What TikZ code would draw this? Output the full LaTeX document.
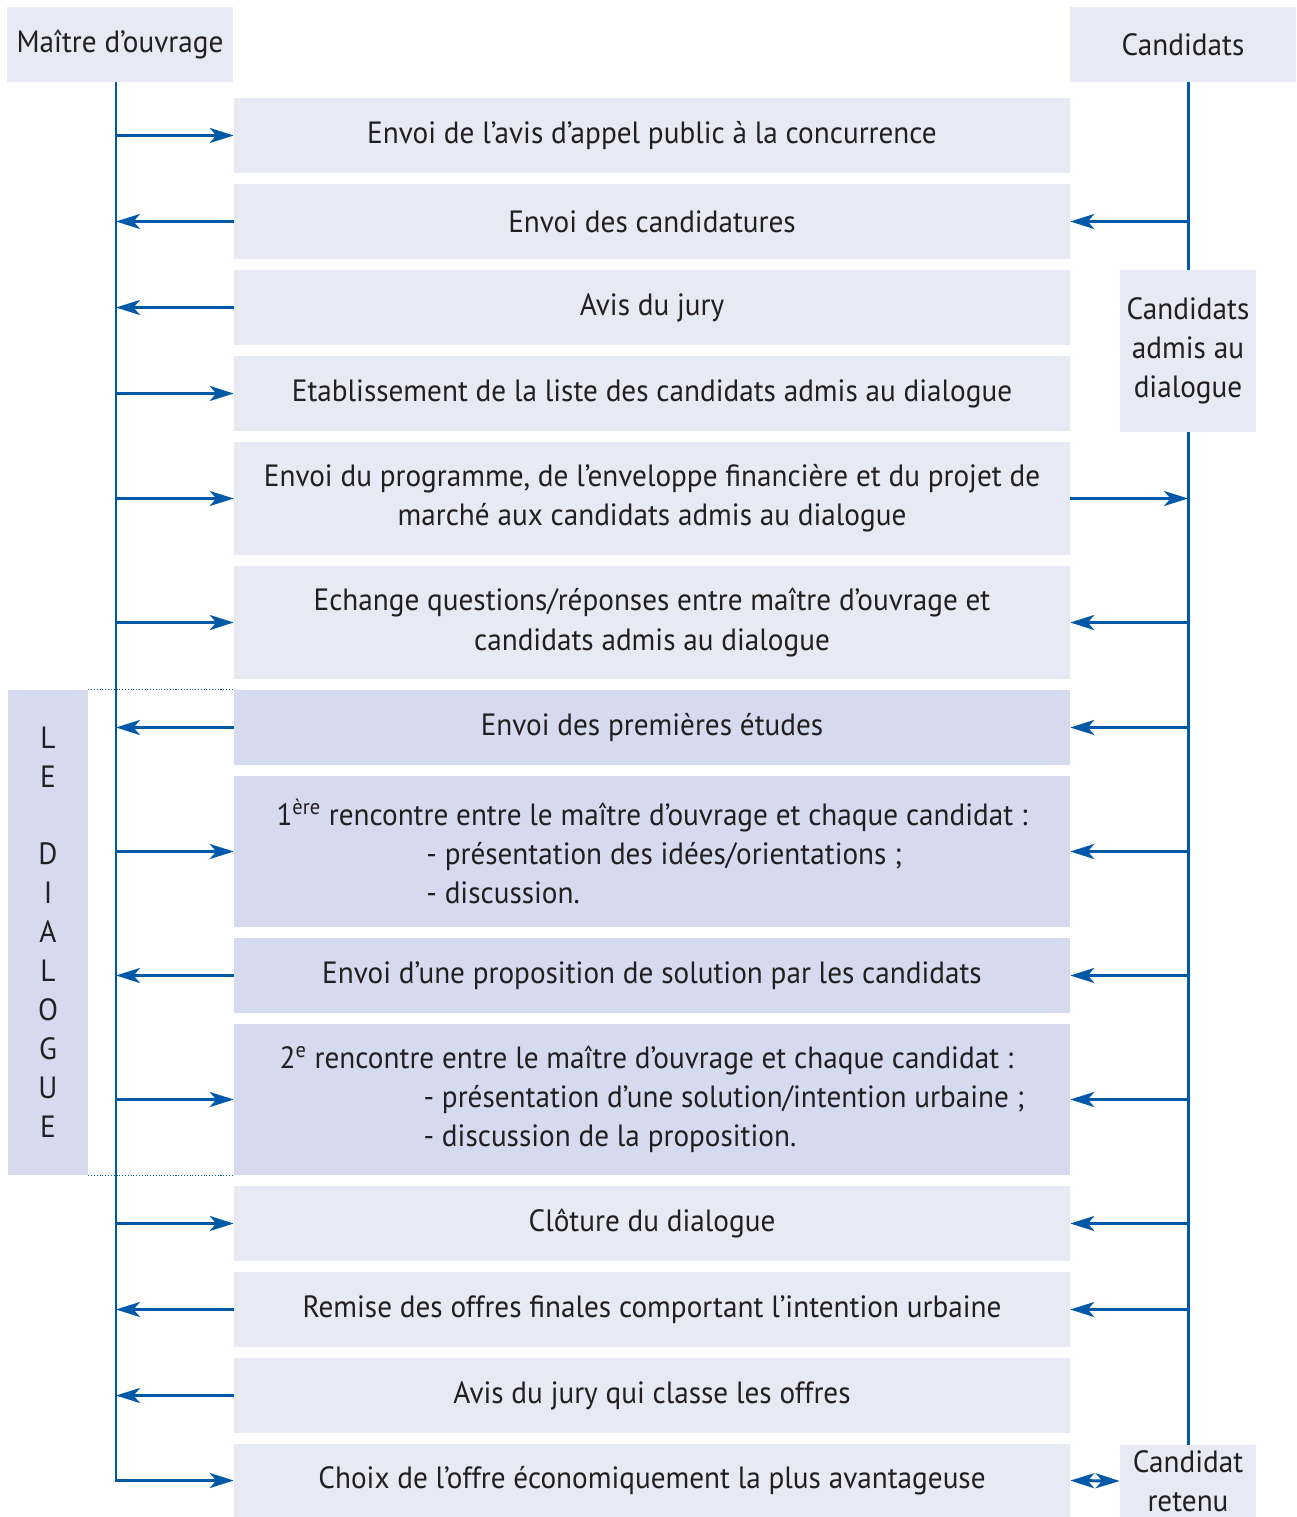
\documentclass[tikz,border=0pt]{standalone}
\usepackage{fontspec}
\setmainfont[FakeStretch=0.95]{PT Sans}
\usetikzlibrary{arrows.meta}
\definecolor{fondclair}{RGB}{231,233,245}
\definecolor{fondfonce}{RGB}{213,218,238}
\definecolor{bleu}{RGB}{0,88,168}
\definecolor{texte}{RGB}{35,31,32}
\begin{document}
\begin{tikzpicture}[x=0.02cm, y=-0.02cm, font=\fontsize{17.5}{22.2}\selectfont, text=texte,
  etape/.style={fill=fondclair, minimum width=16.72cm, minimum height=1.5cm, inner sep=0pt, align=center},
  etape fonce/.style={etape, fill=fondfonce},
  entete/.style={fill=fondclair, minimum width=4.52cm, minimum height=1.5cm, inner sep=0pt, align=center},
  petit/.style={fill=fondclair, minimum width=2.72cm, inner sep=0pt, align=center},
  ligne/.style={draw=bleu, line width=1.7pt},
  fleche/.style={ligne, -{Stealth[length=0.48cm, width=0.3cm, inset=0.13cm]}},
  double fleche/.style={ligne, {Stealth[length=0.48cm, width=0.3cm, inset=0.13cm]}-{Stealth[length=0.48cm, width=0.3cm, inset=0.13cm]}}]
\useasboundingbox (0,0) rectangle (1296,1517);
% en-tetes
\node[entete] (mo) at (120,44.5) {Maître d’ouvrage};
\node[entete] (ca) at (1183,44.5) {Candidats};
\node[petit, minimum height=3.24cm] (adm) at (1188,351) {Candidats\\admis au\\dialogue};
\node[petit, minimum height=1.44cm] (ret) at (1188,1481) {Candidat\\retenu};
\coordinate (mo-bas) at (116,82);
\coordinate (ca-bas) at (1188,82);
% le dialogue
\node[fill=fondfonce, minimum width=1.6cm, minimum height=9.7cm, inner sep=0pt, align=center] (dlg) at (48,932.5)
  {L\\E\\[0.76cm]D\\I\\A\\L\\O\\G\\U\\E};
% etapes
\node[etape] (e1) at (652,135.5) {Envoi de l’avis d’appel public à la concurrence};
\node[etape] (e2) at (652,221.5) {Envoi des candidatures};
\node[etape] (e3) at (652,307.5) {Avis du jury};
\node[etape] (e4) at (652,393.5) {Etablissement de la liste des candidats admis au dialogue};
\node[etape, minimum height=2.26cm] (e5) at (652,498.5) {Envoi du programme, de l’enveloppe financière et du projet de\\marché aux candidats admis au dialogue};
\node[etape, minimum height=2.26cm] (e6) at (652,622.5) {Echange questions/réponses entre maître d’ouvrage et\\candidats admis au dialogue};
\node[etape fonce] (e7) at (652,727.5) {Envoi des premières études};
\node[etape fonce, minimum height=3.02cm, align=left] (e8) at (652,851.5) {1\textsuperscript{ère} rencontre entre le maître d’ouvrage et chaque candidat :\\\hspace*{3cm}- présentation des idées/orientations ;\\\hspace*{3cm}- discussion.};
\node[etape fonce] (e9) at (652,975.5) {Envoi d’une proposition de solution par les candidats};
\node[etape fonce, minimum height=3.02cm, align=left] (e10) at (652,1099.5) {2\textsuperscript{e} rencontre entre le maître d’ouvrage et chaque candidat :\\\hspace*{2.88cm}- présentation d’une solution/intention urbaine ;\\\hspace*{2.88cm}- discussion de la proposition.};
\node[etape] (e11) at (652,1223.5) {Clôture du dialogue};
\node[etape] (e12) at (652,1309.5) {Remise des offres finales comportant l’intention urbaine};
\node[etape] (e13) at (652,1395.5) {Avis du jury qui classe les offres};
\node[etape, minimum height=1.46cm] (e14) at (652,1480.5) {Choix de l’offre économiquement la plus avantageuse};
% pointilles
\draw[bleu, densely dotted, line width=0.6pt] (dlg.north east) -- (dlg.north east -| e7.west);
\draw[bleu, densely dotted, line width=0.6pt] (dlg.south east) -- (dlg.south east -| e10.west);
% lignes de vie
\draw[fleche] (mo-bas) |- (e14.west);
\draw[ligne] (ca-bas) -- (adm.north);
\draw[ligne] (adm.south) -- (ret.north);
% cote maitre d'ouvrage
\draw[fleche] (e1.west -| mo-bas) -- (e1.west);
\draw[fleche] (e2.west) -- (e2.west -| mo-bas);
\draw[fleche] (e3.west) -- (e3.west -| mo-bas);
\draw[fleche] (e4.west -| mo-bas) -- (e4.west);
\draw[fleche] (e5.west -| mo-bas) -- (e5.west);
\draw[fleche] (e6.west -| mo-bas) -- (e6.west);
\draw[fleche] (e7.west) -- (e7.west -| mo-bas);
\draw[fleche] (e8.west -| mo-bas) -- (e8.west);
\draw[fleche] (e9.west) -- (e9.west -| mo-bas);
\draw[fleche] (e10.west -| mo-bas) -- (e10.west);
\draw[fleche] (e11.west -| mo-bas) -- (e11.west);
\draw[fleche] (e12.west) -- (e12.west -| mo-bas);
\draw[fleche] (e13.west) -- (e13.west -| mo-bas);
% cote candidats
\draw[fleche] (e2.east -| ca-bas) -- (e2.east);
\draw[fleche] (e5.east) -- (e5.east -| ca-bas);
\draw[fleche] (e6.east -| ca-bas) -- (e6.east);
\draw[fleche] (e7.east -| ca-bas) -- (e7.east);
\draw[fleche] (e8.east -| ca-bas) -- (e8.east);
\draw[fleche] (e9.east -| ca-bas) -- (e9.east);
\draw[fleche] (e10.east -| ca-bas) -- (e10.east);
\draw[fleche] (e11.east -| ca-bas) -- (e11.east);
\draw[fleche] (e12.east -| ca-bas) -- (e12.east);
\draw[double fleche] (e14.east) -- (ret.west);
\end{tikzpicture}
\end{document}
